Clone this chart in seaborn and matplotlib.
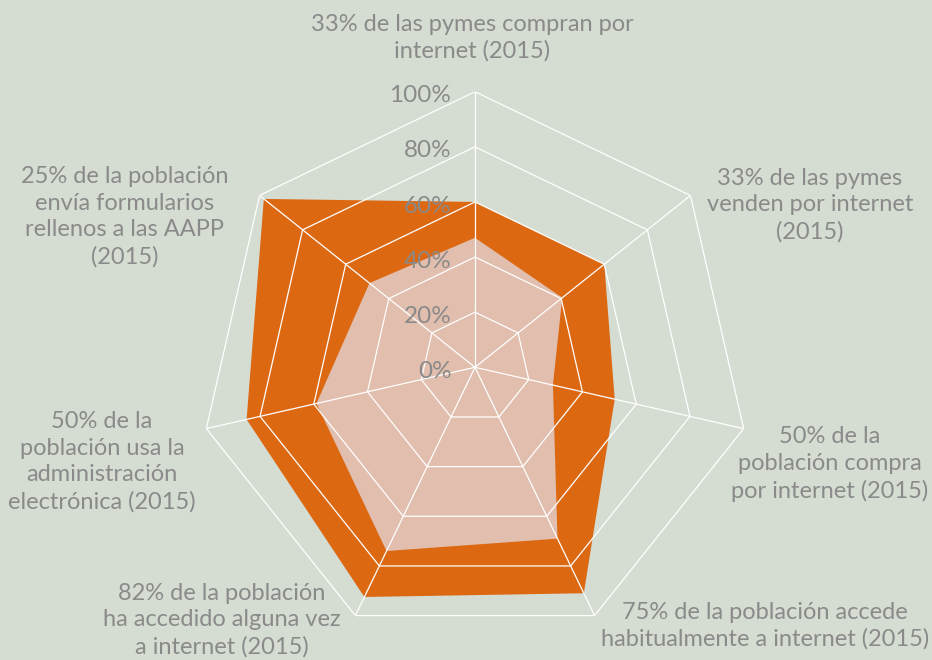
import numpy as np
import matplotlib
matplotlib.use("Agg")
import matplotlib.pyplot as plt
import seaborn as sns

# data
categories = [
    "33% de las pymes compran por\ninternet (2015)",
    "33% de las pymes\nvenden por internet\n(2015)",
    "50% de la\npoblación compra\npor internet (2015)",
    "75% de la población accede\nhabitualmente a internet (2015)",
    "82% de la población\nha accedido alguna vez\na internet (2015)",
    "50% de la\npoblación usa la\nadministración\nelectrónica (2015)",
    "25% de la población\nenvía formularios\nrellenos a las AAPP\n(2015)",
]
outer_values = [60, 60, 52, 91, 92.5, 85, 98]
inner_values = [47, 40.5, 29, 69, 74, 59, 49]
tick_values = [0, 20, 40, 60, 80, 100]
tick_labels = ["0%", "20%", "40%", "60%", "80%", "100%"]

bg = "#d5dcd2"
orange = "#dc6812"
pink = "#e1bead"
grey = "#8a8a8a"

sns.set_theme(style="white")
plt.rcParams["font.family"] = ["Lato", "DejaVu Sans"]

W, H = 932, 660
fig = plt.figure(figsize=(W / 100, H / 100), dpi=100, facecolor=bg)

cx, cy, R = 475, 367.3, 275.6
ax = fig.add_axes([(cx - R) / W, (H - cy - R) / H, 2 * R / W, 2 * R / H], projection="polar")
ax.set_facecolor("none")
ax.set_theta_zero_location("N")
ax.set_theta_direction(-1)
ax.set_ylim(0, 100)
ax.grid(False)
ax.spines["polar"].set_visible(False)
ax.set_xticks([])
ax.set_yticks([])

n = len(categories)
theta = np.linspace(0, 2 * np.pi, n, endpoint=False)
th = np.append(theta, theta[0])

ax.fill(th, np.append(outer_values, outer_values[0]), color=orange, lw=0, zorder=1)
ax.fill(th, np.append(inner_values, inner_values[0]), color=pink, lw=0, zorder=2)

# heptagon grid
for v in tick_values[1:]:
    ax.plot(th, [v] * (n + 1), color="white", lw=0.9, zorder=3)
for t in theta:
    ax.plot([t, t], [0, 100], color="white", lw=0.9, zorder=3)

for v, lab in zip(tick_values, tick_labels):
    ax.annotate(lab, xy=(0, v), xytext=(-17, -3), textcoords="offset points",
                ha="right", va="center", fontsize=17.5, color=grey, zorder=4,
                annotation_clip=False)

# category labels (pixel centres)
label_pos = [(472, 38), (810, 205), (830, 464), (765, 626), (222, 620), (102, 462), (125, 217)]
for lab, (px, py) in zip(categories, label_pos):
    fig.text(px / W, 1 - py / H, lab, ha="center", va="center", fontsize=17,
             color=grey, linespacing=1.32)

fig.savefig("out.png", dpi=100, facecolor=bg)
